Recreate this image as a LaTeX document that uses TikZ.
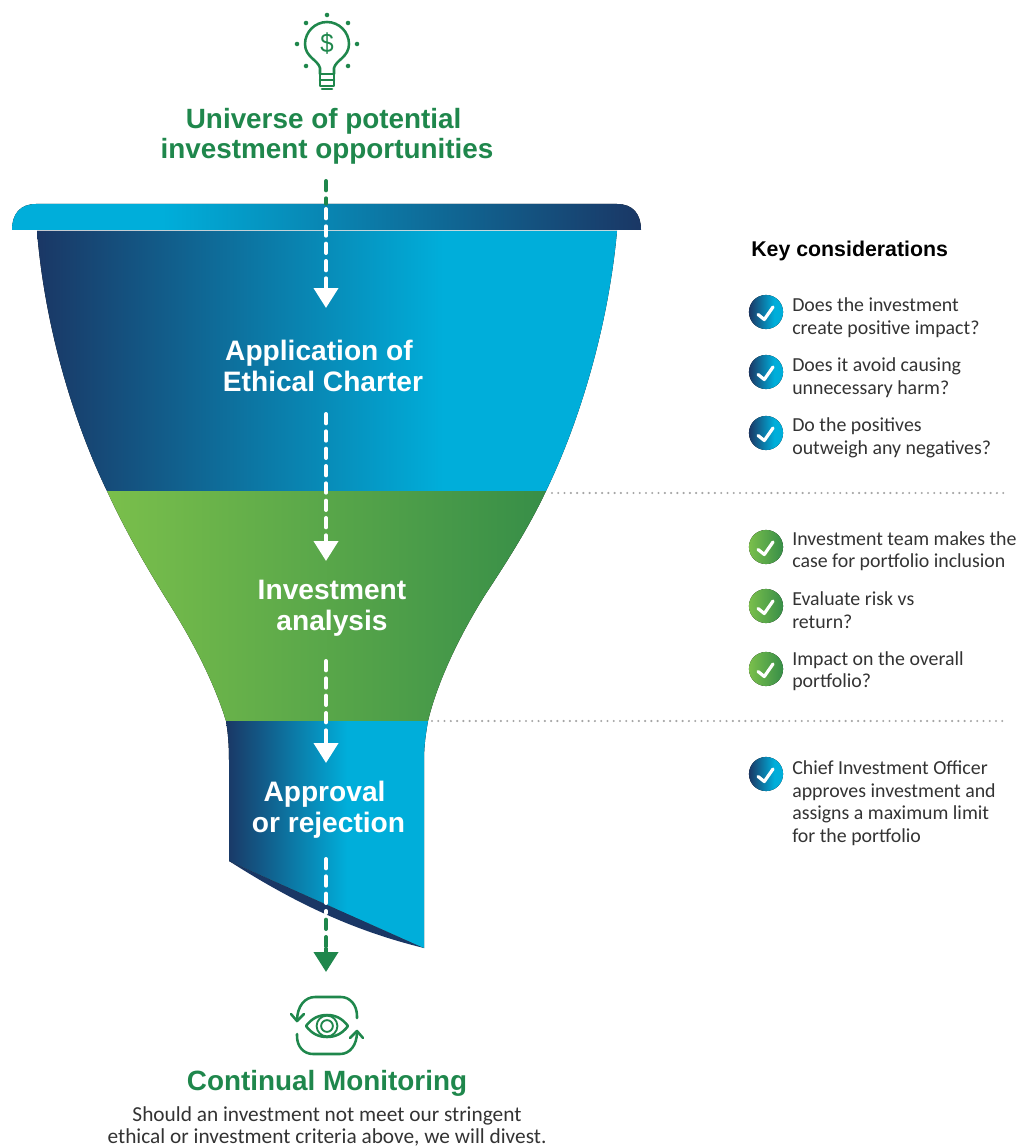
\documentclass[tikz,border=0pt]{standalone}
\usepackage{fontspec}
\setmainfont{Carlito}
\newfontfamily\headfont{Liberation Sans}
\usetikzlibrary{arrows.meta}
\definecolor{navyend}{HTML}{1A3765}
\definecolor{skyend}{HTML}{00AEDA}
\definecolor{limeend}{HTML}{7ABF4B}
\definecolor{leafend}{HTML}{378E48}
\definecolor{titlegreen}{HTML}{1F874C}
\definecolor{bodytext}{HTML}{333333}
\pgfdeclarehorizontalshading{bluefade}{100bp}{color(0bp)=(navyend); color(25bp)=(navyend); color(60bp)=(skyend); color(100bp)=(skyend)}
\pgfdeclarehorizontalshading{lidfade}{100bp}{color(0bp)=(skyend); color(37bp)=(skyend); color(75bp)=(navyend); color(100bp)=(navyend)}
\pgfdeclarehorizontalshading{stemfade}{100bp}{color(0bp)=(navyend); color(25bp)=(navyend); color(55bp)=(skyend); color(100bp)=(skyend)}
\pgfdeclarehorizontalshading{greenfade}{100bp}{color(0bp)=(limeend); color(25bp)=(limeend); color(75bp)=(leafend); color(100bp)=(leafend)}
\pgfdeclarehorizontalshading{tickblue}{100bp}{color(0bp)=(navyend); color(25bp)=(navyend); color(62bp)=(skyend); color(100bp)=(skyend)}
\pgfdeclarehorizontalshading{tickgreen}{100bp}{color(0bp)=(limeend); color(25bp)=(limeend); color(75bp)=(leafend); color(100bp)=(leafend)}
\tikzset{
  title/.style={font=\headfont\bfseries\fontsize{20.9}{22.7}\selectfont, text=titlegreen, align=center, inner sep=0pt},
  stage/.style={font=\headfont\bfseries\fontsize{21.1}{23.2}\selectfont, text=white, align=center, inner sep=0pt},
  point/.style={font=\fontsize{14.9}{16.9}\selectfont, text=bodytext, align=left, anchor=west, inner sep=0pt},
  flow/.style={line width=3pt, dash pattern=on 7pt off 6pt, line cap=round},
  flowhead/.style={line width=3pt, -{Triangle[width=18pt,length=15pt]}},
  icon/.style={draw=titlegreen, line width=1.9pt, line cap=round, line join=round},
  rule/.style={draw=black!35, line width=1.8pt, line cap=round, dash pattern=on 0pt off 4.7pt},
  tick/.style={draw=white, line width=2.4pt, line cap=round, line join=round}
}
\begin{document}
\begin{tikzpicture}[x=0.75pt,y=-0.75pt]
\useasboundingbox (0,0) rectangle (1018,1148);
% draw funnel
\fill[shading=lidfade] (12,230) .. controls (12,214) and (20,204) .. (36,204) -- (617,204) .. controls (633,204) and (641,214) .. (641,230) -- cycle;
\fill[shading=bluefade] (37,231) .. controls (45,330) and (75,425) .. (107,491) -- (546,491) .. controls (578,425) and (608,330) .. (617,231) -- cycle;
\fill[shading=greenfade] (107,491) .. controls (125,530) and (145,565) .. (170,605) .. controls (195,645) and (215,685) .. (226,721) -- (428,721) .. controls (438,680) and (460,635) .. (485,595) .. controls (510,557) and (530,525) .. (546,491) -- cycle;
\fill[navyend] (229,861) .. controls (290,900) and (350,930) .. (424,948) -- cycle;
\fill[shading=stemfade] (226,721) .. controls (228,733) and (229,745) .. (229,760) -- (229,861) -- (424,948) -- (424,760) .. controls (424,745) and (426,733) .. (428,721) -- cycle;
% draw dotted lines
\coordinate (ruleA) at (552,493);
\coordinate (ruleAend) at (1005,493);
\coordinate (ruleB) at (432,721);
\coordinate (ruleBend) at (1008,721);
\draw[rule] (ruleA) -- (ruleAend);
\draw[rule] (ruleB) -- (ruleBend);
% draw arrows
\coordinate (a0) at (326,181);
\coordinate (a1) at (326,209);
\coordinate (a2) at (326,308);
\coordinate (b1) at (326,414);
\coordinate (b2) at (326,561);
\coordinate (c1) at (326,661);
\coordinate (c2) at (326,763);
\coordinate (d1) at (326,859);
\coordinate (d2) at (326,913);
\coordinate (d3) at (326,972);
\draw[flow,titlegreen] (a0) -- ([yshift=4pt]a1);
\draw[flow,white] (a1) -- ([yshift=14pt]a2);
\draw[flowhead,white] ([yshift=18pt]a2) -- (a2);
\draw[flow,white] (b1) -- ([yshift=14pt]b2);
\draw[flowhead,white] ([yshift=18pt]b2) -- (b2);
\draw[flow,white] (c1) -- ([yshift=14pt]c2);
\draw[flowhead,white] ([yshift=18pt]c2) -- (c2);
\draw[flow,white] (d1) -- (d2);
\draw[flow,titlegreen] ([yshift=-5pt]d2) -- ([yshift=14pt]d3);
\draw[flowhead,titlegreen] ([yshift=18pt]d3) -- (d3);
% draw bulb
\draw[icon] (320,74) -- (320,68) .. controls (318,60) and (305,57) .. (305,44) .. controls (305,32) and (315,22) .. (327,22) .. controls (339,22) and (349,32) .. (349,44) .. controls (349,57) and (336,60) .. (334,68) -- (334,74);
\draw[icon] (320,74) rectangle (334,86);
\draw[icon] (320,80) -- (334,80);
\draw[icon] (322,89) -- (332,89);
\foreach \x/\y in {327/15,306/23,348/23,297/44,357/44,306/66,348/66}
\fill[titlegreen] (\x,\y) circle (1.7pt);
\node[text=titlegreen, font=\headfont\fontsize{20}{20}\selectfont, xscale=0.9, inner sep=0pt] (dollar) at (327,44) {\$};
% draw eye
\draw[icon] (357,1018) -- (357,1016) .. controls (357,1005) and (350,997) .. (341,997) -- (315,997) .. controls (305,997) and (297,1006) .. (297,1021);
\draw[icon] (291,1014) -- (297,1021) -- (304,1014);
\draw[icon] (297,1034) -- (297,1036) .. controls (297,1047) and (304,1054) .. (313,1054) -- (340,1054) .. controls (350,1054) and (357,1045) .. (357,1032);
\draw[icon] (350,1038) -- (357,1031) -- (363,1038);
\draw[icon] (306,1026) .. controls (312,1018) and (319,1015) .. (327,1015) .. controls (335,1015) and (342,1018) .. (348,1026) .. controls (342,1034) and (335,1037) .. (327,1037) .. controls (319,1037) and (312,1034) .. (306,1026) -- cycle;
\draw[icon, line width=1.4pt] (327,1026) circle (7.8pt);
\draw[icon, line width=1.4pt] (327,1026) circle (4.4pt);
% draw titles
\node[title] (universe) at (327,136) {Universe of potential\hspace*{5pt}\\investment opportunities};
\node[stage] (charter) at (323,366) {Application of\hspace*{6pt}\\Ethical Charter};
\node[stage] (analysis) at (332,608.5) {Investment\\analysis};
\node[stage] (approval) at (328.5,810) {Approval\hspace*{6pt}\\or rejection};
\node[title] (monitoring) at (327,1083) {Continual Monitoring};
\node[font=\fontsize{16}{16.6}\selectfont, text=bodytext, align=center, inner sep=0pt] (divest) at (327,1126.5) {Should an investment not meet our stringent\\ethical or investment criteria above, we will divest.};
\node[font=\headfont\bfseries\fontsize{16}{18}\selectfont, text=black, anchor=west, inner sep=0pt] (keyhead) at (751,251) {Key considerations};
% draw ticks
\foreach \y in {312,372,433,774}{
\fill[shading=tickblue] (766,\y) circle (12.8pt);
\draw[tick] (758,\y+2.5) -- (764.3,\y+7.5) -- (773,\y-5);
}
\foreach \y in {547,606,669}{
\fill[shading=tickgreen] (766,\y) circle (12.8pt);
\draw[tick] (758,\y+2.5) -- (764.3,\y+7.5) -- (773,\y-5);
}
% draw points
\node[point] (p1) at (792,317.5) {Does the investment\\create positive impact?};
\node[point] (p2) at (792,377.5) {Does it avoid causing\\unnecessary harm?};
\node[point] (p3) at (792,438) {Do the positives\\outweigh any negatives?};
\node[point] (p4) at (792,551) {Investment team makes the\\case for portfolio inclusion};
\node[point] (p5) at (792,610) {Evaluate risk vs\\return?};
\node[point] (p6) at (792,671) {Impact on the overall\\portfolio?};
\node[point] (p7) at (792,803) {Chief Investment Officer\\approves investment and\\assigns a maximum limit\\for the portfolio};
\end{tikzpicture}
\end{document}
